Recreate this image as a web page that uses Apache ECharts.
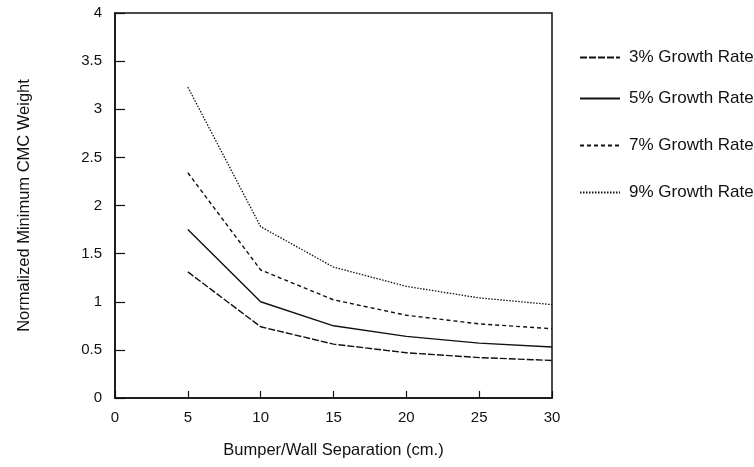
<!DOCTYPE html>
<html><head><meta charset="utf-8">
<script src="https://cdn.jsdelivr.net/npm/echarts@6/dist/echarts.min.js"></script>
<style>html,body{margin:0;padding:0;background:#fff}#c{width:754px;height:467px}</style>
</head><body><div id="c"></div>
<script>
const xValues = [5, 10, 15, 20, 25, 30];
const seriesNames = ['3% Growth Rate', '5% Growth Rate', '7% Growth Rate', '9% Growth Rate'];
const rate3 = [1.31, 0.74, 0.56, 0.47, 0.42, 0.39];
const rate5 = [1.75, 1.00, 0.75, 0.64, 0.57, 0.53];
const rate7 = [2.34, 1.33, 1.02, 0.86, 0.77, 0.72];
const rate9 = [3.23, 1.78, 1.36, 1.16, 1.04, 0.97];
const xTicks = [0, 5, 10, 15, 20, 25, 30];
const yTicks = [0, 0.5, 1, 1.5, 2, 2.5, 3, 3.5, 4];

const font = 'Liberation Sans, Arial, Helvetica, sans-serif';
const dashes = [[7, 2], 'solid', [4, 3], [1.5, 1.5]];
const values = [rate3, rate5, rate7, rate9];
const legendTops = [44, 85, 132, 179];

const chart = echarts.init(document.getElementById('c'), null, {renderer: 'canvas'});
chart.setOption({
  animation: false,
  backgroundColor: '#fff',
  grid: {left: 115, top: 13, right: 202, bottom: 69, show: true, borderColor: '#111', borderWidth: 1.5, backgroundColor: 'transparent'},
  legend: seriesNames.map((n, i) => ({
    orient: 'horizontal', left: 574, top: legendTops[i], itemWidth: 40, itemHeight: 14, itemGap: 10,
    data: [n], selectedMode: false,
    itemStyle: {color: 'transparent', borderWidth: 0, opacity: 0},
    textStyle: {fontFamily: font, fontSize: 17, color: '#111', padding: [0, 0, 0, 4]}
  })),
  xAxis: {
    type: 'value', min: 0, max: 30, interval: 5,
    name: 'Bumper/Wall Separation (cm.)', nameLocation: 'middle', nameGap: 44,
    nameTextStyle: {fontFamily: font, fontSize: 16.5, color: '#111'},
    axisLine: {show: true, lineStyle: {color: '#111', width: 1.5}},
    axisTick: {show: true, inside: true, length: 7, lineStyle: {color: '#111', width: 1.2}},
    axisLabel: {fontFamily: font, fontSize: 15, color: '#111', margin: 12,
      formatter: v => xTicks.includes(v) ? String(v) : ''},
    splitLine: {show: false}
  },
  yAxis: {
    type: 'value', min: 0, max: 4, interval: 0.5,
    name: 'Normalized Minimum CMC Weight', nameLocation: 'middle', nameGap: 82, nameRotate: 90,
    nameTextStyle: {fontFamily: font, fontSize: 16.5, color: '#111'},
    axisLine: {show: true, lineStyle: {color: '#111', width: 1.5}},
    axisTick: {show: true, inside: true, length: 10, lineStyle: {color: '#111', width: 1.2}},
    axisLabel: {fontFamily: font, fontSize: 15, color: '#111', margin: 13,
      formatter: v => yTicks.includes(v) ? String(v) : ''},
    splitLine: {show: false}
  },
  series: seriesNames.map((n, i) => ({
    name: n, type: 'line', symbol: 'none', showSymbol: false,
    data: xValues.map((x, j) => [x, values[i][j]]),
    lineStyle: {color: '#111', width: i === 3 ? 1.3 : 1.4, type: dashes[i]},
    itemStyle: {color: '#111'}
  }))
});
</script></body></html>
